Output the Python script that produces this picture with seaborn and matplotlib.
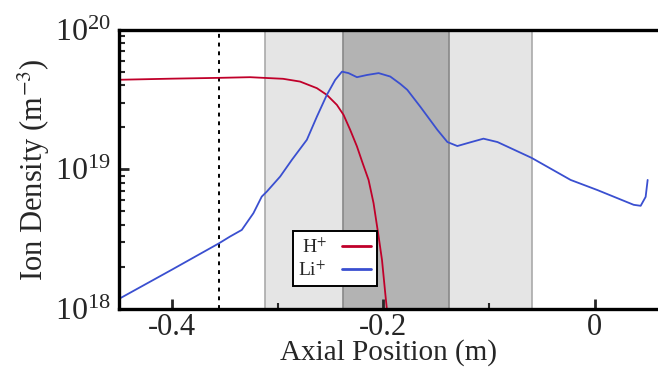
import numpy as np
import pandas as pd
import seaborn as sns
import matplotlib
matplotlib.use("Agg")
import matplotlib.pyplot as plt
from matplotlib.ticker import LogLocator, MultipleLocator, NullFormatter

# --- data (axial position in m, density in m^-3) ---
h_pos = [-0.450, -0.400, -0.3555, -0.3261, -0.2948, -0.2787, -0.2628, -0.2534,
         -0.2439, -0.2376, -0.2313, -0.2249, -0.2199, -0.2139, -0.2092, -0.2044,
         -0.2012, -0.1981, -0.1965, -0.195]
h_dens = [4.39e19, 4.47e19, 4.53e19, 4.58e19, 4.46e19, 4.26e19, 3.82e19, 3.42e19,
          2.90e19, 2.46e19, 1.92e19, 1.46e19, 1.13e19, 8.4e18, 5.73e18, 3.30e18,
          2.24e18, 1.29e18, 9.8e17, 6.0e17]

li_pos = [-0.450, -0.400, -0.3555, -0.345, -0.3339, -0.3229, -0.315, -0.3102,
          -0.2976, -0.2865, -0.2723, -0.2628, -0.2534, -0.2455, -0.2391, -0.2329,
          -0.2249, -0.2154, -0.2044, -0.1934, -0.1839, -0.1773, -0.1649, -0.1488,
          -0.1393, -0.1299, -0.118, -0.1052, -0.0919, -0.0597, -0.0227, 0.0028,
          0.037, 0.0436, 0.0483, 0.0502]
li_dens = [1.18e18, 1.91e18, 2.95e18, 3.30e18, 3.68e18, 4.85e18, 6.38e18, 6.93e18,
           8.88e18, 1.17e19, 1.63e19, 2.39e19, 3.42e19, 4.38e19, 5.02e19, 4.90e19,
           4.58e19, 4.75e19, 4.90e19, 4.63e19, 4.10e19, 3.72e19, 2.81e19, 1.92e19,
           1.57e19, 1.47e19, 1.56e19, 1.66e19, 1.57e19, 1.21e19, 8.4e18, 7.1e18,
           5.57e18, 5.48e18, 6.35e18, 8.4e18]

species = ["H$^{+}$", "Li$^{+}$"]
colors = ["#c0002a", "#3a4fd0"]

# regions and marker
outer_region = (-0.312, -0.0595)
inner_region = (-0.2385, -0.1375)
marker_pos = -0.3555

df = pd.concat([
    pd.DataFrame({"pos": h_pos, "dens": h_dens, "ion": species[0]}),
    pd.DataFrame({"pos": li_pos, "dens": li_dens, "ion": species[1]}),
])

sns.set_theme(style="ticks")
plt.rcParams["font.family"] = ["Liberation Serif", "DejaVu Serif"]
plt.rcParams["mathtext.fontset"] = "stix"

fig = plt.figure(figsize=(6.58, 3.69), dpi=100)
ax = fig.add_axes([0.181, 0.163, 0.819, 0.756])

ax.axvspan(*outer_region, facecolor="#e5e5e5", edgecolor="#aaaaaa", lw=1.2, zorder=0)
ax.axvspan(*inner_region, facecolor="#b3b3b3", edgecolor="#888888", lw=1.2, zorder=0.5)
ax.axvline(marker_pos, color="black", ls=(0, (2, 2.5)), lw=1.4, zorder=1)

sns.lineplot(data=df, x="pos", y="dens", hue="ion", palette=dict(zip(species, colors)),
             sort=False, estimator=None, lw=1.3, ax=ax, zorder=2)

ax.set_yscale("log")
ax.set_xlim(-0.45, 0.06)
ax.set_ylim(1e18, 1e20)

ax.xaxis.set_minor_locator(MultipleLocator(0.1))
ax.set_xticks([-0.4, -0.2, 0.0])
ax.set_xticklabels(["-0.4", "-0.2", "0"])
ax.yaxis.set_major_locator(LogLocator(base=10, numticks=5))
ax.yaxis.set_minor_locator(LogLocator(base=10, subs=np.arange(2, 10), numticks=20))
ax.yaxis.set_minor_formatter(NullFormatter())

ax.tick_params(which="major", direction="in", length=7, width=2, labelsize=23, pad=6)
ax.tick_params(axis="x", which="major", labelsize=22, pad=3)
ax.tick_params(which="minor", direction="in", length=4, width=1.5)
ax.tick_params(axis="x", which="both", top=False)
ax.tick_params(axis="y", which="both", right=False)

for side in ["left", "bottom", "top"]:
    ax.spines[side].set_linewidth(2.4)
    ax.spines[side].set_color("black")
ax.spines["right"].set_visible(False)

ax.set_xlabel("Axial Position (m)", fontsize=21, labelpad=-2)
ax.set_ylabel("Ion Density (m$^{-3}$)", fontsize=22, labelpad=2)

handles, labels = ax.get_legend_handles_labels()
leg = ax.legend(handles, labels, loc="lower left", bbox_to_anchor=(0.304, 0.047),
                markerfirst=False, fontsize=14, handlelength=1.5, frameon=True,
                fancybox=False, framealpha=1, edgecolor="black", borderpad=0.3,
                labelspacing=0.2, handletextpad=0.8)
leg.get_frame().set_linewidth(1.4)
for line in leg.get_lines():
    line.set_linewidth(2)

fig.savefig("out.png", dpi=100)
